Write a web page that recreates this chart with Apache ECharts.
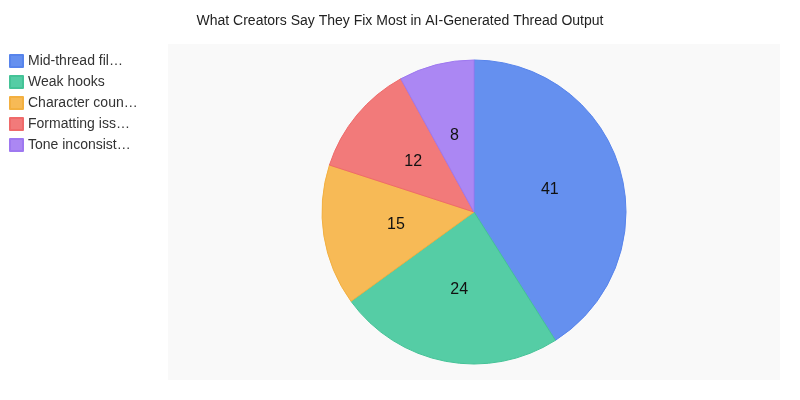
<!DOCTYPE html>
<html>
<head>
<meta charset="utf-8">
<script src="https://cdn.jsdelivr.net/npm/echarts@6/dist/echarts.min.js"></script>
<style>
html,body{margin:0;padding:0;background:#fff;}
#chart{width:800px;height:400px;}
</style>
</head>
<body>
<div id="chart"></div>
<script>
const categories = ["Mid-thread filler", "Weak hooks", "Character count limits", "Formatting issues", "Tone inconsistency"];
const values = [41, 24, 15, 12, 8];
const colors = ["#6590EF", "#55CDA5", "#F7BA56", "#F27A7A", "#AB87F3"];
const borders = ["#5784EC", "#44C397", "#F3B040", "#EF6A6A", "#9E78F0"];

const FONT = 'Liberation Sans, Arial, sans-serif';
const chart = echarts.init(document.getElementById('chart'));
chart.setOption({
  animation: false,
  textStyle: { fontFamily: FONT },
  title: {
    text: 'What Creators Say They Fix Most in AI-Generated Thread Output',
    left: 'center',
    top: 9,
    textStyle: { fontSize: 14, fontWeight: 'normal', color: '#222', fontFamily: FONT }
  },
  grid: { left: 168, right: 20, top: 44, bottom: 20, show: true, backgroundColor: '#f9f9f9', borderWidth: 0 },
  xAxis: { show: false, type: 'value' },
  yAxis: { show: false, type: 'value' },
  legend: {
    orient: 'vertical',
    left: 9,
    top: 54,
    padding: 0,
    itemWidth: 13,
    itemHeight: 12,
    itemGap: 7,
    icon: 'rect',
    textStyle: { fontSize: 14, color: '#333', fontFamily: FONT },
    formatter: function (n) { return n.length > 15 ? n.slice(0, 14) + '…' : n; },
    data: categories
  },
  series: [{
    type: 'pie',
    center: [474, 212],
    radius: [0, 152],
    startAngle: 90,
    clockwise: true,
    label: {
      show: true,
      position: 'inside',
      formatter: '{c}',
      fontSize: 16,
      color: '#111',
      fontFamily: FONT
    },
    labelLine: { show: false },
    emphasis: { disabled: true },
    data: categories.map((c, i) => ({
      name: c,
      value: values[i],
      itemStyle: { color: colors[i], borderColor: borders[i], borderWidth: 1 }
    }))
  }]
});
</script>
</body>
</html>
